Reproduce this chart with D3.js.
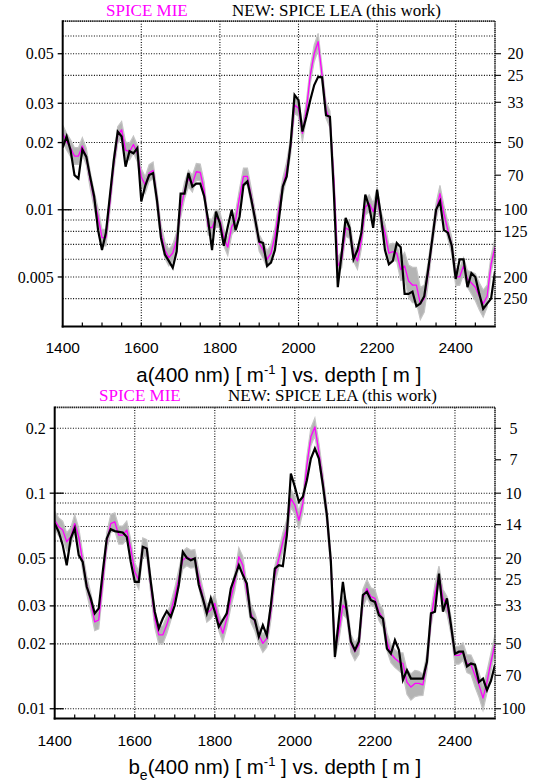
<!DOCTYPE html>
<html>
<head>
<meta charset="utf-8">
<script src="https://cdn.jsdelivr.net/npm/d3@7"></script>
<style>
html,body{margin:0;padding:0;background:#fff;}
svg{display:block;}
</style>
</head>
<body>
<svg id="chart" width="536" height="783"></svg>
<script>
// ---------------- DATA ----------------
const depths = [1400,1410,1420,1430,1440,1450,1460,1470,1480,1490,
 1500,1510,1520,1530,1540,1550,1560,1570,1580,1590,
 1600,1610,1620,1630,1640,1650,1660,1670,1680,1690,
 1700,1710,1720,1730,1740,1750,1760,1770,1780,1790,
 1800,1810,1820,1830,1840,1850,1860,1870,1880,1890,
 1900,1910,1920,1930,1940,1950,1960,1970,1980,1990,
 2000,2010,2020,2030,2040,2050,2060,2070,2080,2090,
 2100,2110,2120,2130,2140,2150,2160,2170,2180,2190,
 2200,2210,2220,2230,2240,2250,2260,2270,2280,2290,
 2300,2310,2320,2330,2340,2350,2360,2370,2380,2390,
 2400,2410,2420,2430,2440,2450,2460,2470,2480,2490,
 2500];

// a(400 nm): SPICE MIE (magenta) and SPICE LEA (black)
const absMie = [0.0220,0.0202,0.0189,0.0174,0.0174,0.0193,0.0173,0.0136,0.0111,0.0093,
 0.0075,0.0075,0.0107,0.0161,0.0216,0.0228,0.0185,0.0182,0.0196,0.0179,
 0.0140,0.0129,0.0146,0.0150,0.0111,0.0079,0.0066,0.0061,0.0064,0.0073,
 0.0100,0.0122,0.0138,0.0131,0.0148,0.0147,0.0122,0.0084,0.0083,0.0092,
 0.0090,0.0075,0.0068,0.0084,0.0090,0.0114,0.0141,0.0141,0.0114,0.0090,
 0.0071,0.0066,0.0060,0.0064,0.0076,0.0100,0.0127,0.0151,0.0192,0.0295,
 0.0285,0.0220,0.0280,0.0401,0.0502,0.0566,0.0401,0.0280,0.0254,0.0136,
 0.0056,0.0060,0.0083,0.0081,0.0064,0.0059,0.0073,0.0103,0.0107,0.0098,
 0.0114,0.0090,0.0079,0.0064,0.0065,0.0064,0.0054,0.0056,0.0048,0.0046,
 0.0046,0.0038,0.0040,0.0052,0.0073,0.0098,0.0118,0.0096,0.0081,0.0069,
 0.0050,0.0050,0.0056,0.0049,0.0047,0.0045,0.0041,0.0038,0.0041,0.0057,
 0.0068];
const absLea = [0.0190,0.0213,0.0185,0.0143,0.0138,0.0186,0.0173,0.0140,0.0115,0.0081,
 0.0066,0.0079,0.0115,0.0167,0.0224,0.0213,0.0156,0.0183,0.0179,0.0189,
 0.0109,0.0128,0.0143,0.0146,0.0110,0.0075,0.0063,0.0059,0.0055,0.0065,
 0.0118,0.0118,0.0146,0.0127,0.0131,0.0131,0.0115,0.0090,0.0066,0.0098,
 0.0087,0.0069,0.0084,0.0100,0.0081,0.0093,0.0129,0.0134,0.0111,0.0090,
 0.0072,0.0071,0.0056,0.0058,0.0066,0.0090,0.0127,0.0141,0.0198,0.0327,
 0.0310,0.0224,0.0261,0.0310,0.0362,0.0394,0.0392,0.0265,0.0261,0.0119,
 0.0045,0.0064,0.0092,0.0083,0.0060,0.0066,0.0079,0.0117,0.0103,0.0083,
 0.0123,0.0093,0.0066,0.0057,0.0059,0.0071,0.0068,0.0042,0.0042,0.0043,
 0.0037,0.0038,0.0041,0.0054,0.0073,0.0100,0.0109,0.0081,0.0079,0.0069,
 0.0049,0.0060,0.0060,0.0045,0.0052,0.0050,0.0042,0.0036,0.0038,0.0040,
 0.0053];
// relative half-width of the grey uncertainty band around SPICE MIE
const absErr = [0.09,0.09,0.09,0.09,0.09,0.09,0.09,0.09,0.09,0.09,
 0.09,0.09,0.09,0.09,0.09,0.09,0.09,0.09,0.09,0.09,
 0.09,0.09,0.09,0.09,0.09,0.09,0.09,0.09,0.09,0.09,
 0.09,0.09,0.09,0.09,0.09,0.09,0.09,0.09,0.09,0.09,
 0.09,0.09,0.09,0.09,0.09,0.09,0.09,0.09,0.09,0.09,
 0.09,0.09,0.09,0.09,0.09,0.09,0.09,0.09,0.09,0.09,
 0.09,0.09,0.09,0.09,0.09,0.09,0.09,0.09,0.09,0.09,
 0.09,0.09,0.09,0.09,0.09,0.09,0.09,0.09,0.09,0.09,
 0.09,0.09,0.09,0.09,0.09,0.09,0.12,0.15,0.18,0.20,
 0.20,0.18,0.15,0.12,0.09,0.09,0.09,0.09,0.09,0.09,
 0.09,0.09,0.09,0.09,0.12,0.15,0.15,0.15,0.12,0.09,
 0.09];

// b_e(400 nm): SPICE MIE (magenta) and SPICE LEA (black)
const scatMie = [0.0749,0.0698,0.0674,0.0595,0.0627,0.0723,0.0627,0.0480,0.0375,0.0314,
 0.0253,0.0258,0.0388,0.0595,0.0723,0.0737,0.0639,0.0639,0.0674,0.0554,
 0.0432,0.0395,0.0564,0.0554,0.0375,0.0262,0.0220,0.0220,0.0245,0.0282,
 0.0331,0.0402,0.0489,0.0507,0.0494,0.0498,0.0402,0.0331,0.0277,0.0287,
 0.0308,0.0253,0.0224,0.0262,0.0325,0.0388,0.0507,0.0463,0.0349,0.0277,
 0.0253,0.0220,0.0201,0.0212,0.0282,0.0417,0.0498,0.0595,0.0686,0.0945,
 0.0880,0.0749,0.0896,0.1348,0.1825,0.2029,0.1555,0.1129,0.0791,0.0480,
 0.0187,0.0228,0.0302,0.0287,0.0201,0.0184,0.0197,0.0325,0.0361,0.0331,
 0.0325,0.0282,0.0262,0.0205,0.0180,0.0171,0.0165,0.0162,0.0133,0.0126,
 0.0131,0.0131,0.0129,0.0165,0.0262,0.0343,0.0417,0.0325,0.0302,0.0244,
 0.0177,0.0177,0.0184,0.0162,0.0160,0.0143,0.0129,0.0112,0.0133,0.0165,
 0.0200];
const scatLea = [0.0723,0.0662,0.0574,0.0463,0.0616,0.0686,0.0516,0.0480,0.0368,0.0325,
 0.0277,0.0292,0.0432,0.0616,0.0681,0.0667,0.0662,0.0657,0.0627,0.0480,
 0.0388,0.0388,0.0564,0.0554,0.0388,0.0282,0.0236,0.0262,0.0284,0.0267,
 0.0302,0.0375,0.0534,0.0501,0.0489,0.0498,0.0375,0.0325,0.0277,0.0325,
 0.0282,0.0240,0.0258,0.0277,0.0361,0.0409,0.0463,0.0417,0.0381,0.0267,
 0.0258,0.0216,0.0244,0.0219,0.0302,0.0447,0.0463,0.0459,0.0639,0.1234,
 0.1070,0.0912,0.0962,0.1149,0.1448,0.1611,0.1448,0.1089,0.0791,0.0480,
 0.0174,0.0262,0.0388,0.0282,0.0205,0.0187,0.0205,0.0337,0.0349,0.0319,
 0.0313,0.0272,0.0262,0.0190,0.0180,0.0208,0.0187,0.0136,0.0151,0.0138,
 0.0138,0.0138,0.0138,0.0165,0.0277,0.0282,0.0424,0.0282,0.0325,0.0244,
 0.0180,0.0184,0.0184,0.0157,0.0162,0.0160,0.0133,0.0138,0.0122,0.0135,
 0.0160];
const scatErr = [0.10,0.10,0.10,0.10,0.10,0.10,0.10,0.10,0.10,0.10,
 0.10,0.10,0.10,0.10,0.10,0.10,0.10,0.10,0.10,0.10,
 0.10,0.10,0.10,0.10,0.10,0.10,0.10,0.10,0.10,0.10,
 0.10,0.10,0.10,0.10,0.10,0.10,0.10,0.10,0.10,0.10,
 0.10,0.10,0.10,0.10,0.10,0.10,0.10,0.10,0.10,0.10,
 0.10,0.10,0.10,0.10,0.10,0.10,0.10,0.10,0.10,0.10,
 0.10,0.10,0.10,0.10,0.10,0.10,0.10,0.10,0.10,0.10,
 0.10,0.10,0.10,0.10,0.10,0.10,0.10,0.10,0.10,0.10,
 0.10,0.10,0.10,0.10,0.10,0.10,0.10,0.12,0.14,0.15,
 0.15,0.14,0.12,0.10,0.10,0.10,0.10,0.10,0.10,0.10,
 0.10,0.10,0.10,0.10,0.11,0.13,0.14,0.14,0.12,0.10,
 0.10];

// axes / ticks
const xDomain = [1400, 2500];
const xTickLabels = [1400, 1600, 1800, 2000, 2200, 2400];
const xGrid = [1600, 1800, 2000, 2200, 2400];
const xMinorStep = 50;

const absDomain = [0.003, 0.07];
const absLeftTicks = [0.05, 0.03, 0.02, 0.01, 0.005];
const absLongTicks = [0.01];
const absGrid = [0.004, 0.005, 0.006, 0.007, 0.008, 0.009, 0.01, 0.02, 0.03, 0.04, 0.05, 0.06];
const absRightTicks = [20, 25, 33, 50, 70, 100, 125, 200, 250];

const scatDomain = [0.009, 0.25];
const scatLeftTicks = [0.2, 0.1, 0.05, 0.03, 0.02, 0.01];
const scatLongTicks = [0.1, 0.01];
const scatGrid = [0.01, 0.02, 0.03, 0.04, 0.05, 0.06, 0.07, 0.08, 0.09, 0.1, 0.2];
const scatRightTicks = [5, 7, 10, 14, 20, 25, 33, 50, 70, 100];

const legendMie = "SPICE MIE";
const legendLea = "NEW: SPICE LEA (this work)";

// ---------------- DRAW ----------------
const svg = d3.select("#chart");
svg.append("rect").attr("width", 536).attr("height", 783).attr("fill", "#fff");

const SERIF = "'Liberation Serif','Times New Roman',Times,serif";
const SANS = "'Liberation Sans',Arial,Helvetica,sans-serif";

function panel(cfg) {
  const g = svg.append("g");
  const x = d3.scaleLinear().domain(xDomain).range([cfg.left, cfg.right]);
  const y = d3.scaleLog().domain(cfg.yDomain).range([cfg.bottom, cfg.top]);

  // legend / title
  g.append("text").attr("x", cfg.mieX).attr("y", cfg.titleY)
    .attr("font-family", SERIF).attr("font-size", 17).attr("fill", "#ff00ff")
    .text(legendMie);
  g.append("text").attr("x", cfg.leaX).attr("y", cfg.titleY)
    .attr("font-family", SERIF).attr("font-size", 17).attr("fill", "#000")
    .text(legendLea);

  // grid
  const dot = "1,1.6";
  g.selectAll(".hg").data(cfg.grid).enter().append("line")
    .attr("x1", cfg.left).attr("x2", cfg.right)
    .attr("y1", d => y(d)).attr("y2", d => y(d))
    .attr("stroke", "#000").attr("stroke-width", 1.1).attr("stroke-dasharray", dot);
  g.selectAll(".vg").data(xGrid).enter().append("line")
    .attr("x1", d => x(d)).attr("x2", d => x(d))
    .attr("y1", cfg.top).attr("y2", cfg.bottom)
    .attr("stroke", "#000").attr("stroke-width", 1.1).attr("stroke-dasharray", dot);

  // data
  const rows = depths.map((d, i) => ({d, mie: cfg.mie[i], lea: cfg.lea[i], e: cfg.err[i]}));
  const clipId = "clip" + cfg.id;
  svg.append("clipPath").attr("id", clipId).append("rect")
    .attr("x", cfg.left).attr("y", cfg.top)
    .attr("width", cfg.right - cfg.left).attr("height", cfg.bottom - cfg.top);
  const pg = g.append("g").attr("clip-path", `url(#${clipId})`);
  pg.append("path").datum(rows)
    .attr("fill", "#b4b4b4").attr("stroke", "#c4c4c4").attr("stroke-width", 1.2)
    .attr("d", d3.area().x(r => x(r.d)).y0(r => y(r.mie / (1 + r.e))).y1(r => y(r.mie * (1 + r.e))));
  pg.append("path").datum(rows)
    .attr("fill", "none").attr("stroke", "#ff00ff").attr("stroke-width", 1.3)
    .attr("stroke-linejoin", "round")
    .attr("d", d3.line().x(r => x(r.d)).y(r => y(r.mie)));
  pg.append("path").datum(rows)
    .attr("fill", "none").attr("stroke", "#000").attr("stroke-width", 2.2)
    .attr("stroke-linejoin", "miter")
    .attr("d", d3.line().x(r => x(r.d)).y(r => y(r.lea)));

  // frame
  g.append("line").attr("x1", cfg.left).attr("x2", cfg.right).attr("y1", cfg.top).attr("y2", cfg.top)
    .attr("stroke", "#222").attr("stroke-width", 1.6).attr("stroke-dasharray", "1.5,0.6");
  g.append("line").attr("x1", cfg.right).attr("x2", cfg.right).attr("y1", cfg.top).attr("y2", cfg.bottom)
    .attr("stroke", "#222").attr("stroke-width", 1.6).attr("stroke-dasharray", "1.5,0.6");
  g.append("line").attr("x1", cfg.left).attr("x2", cfg.left).attr("y1", cfg.top - 0.8).attr("y2", cfg.bottom + 1)
    .attr("stroke", "#000").attr("stroke-width", 2);
  g.append("line").attr("x1", cfg.left - 1).attr("x2", cfg.right + 0.8).attr("y1", cfg.bottom).attr("y2", cfg.bottom)
    .attr("stroke", "#000").attr("stroke-width", 2);

  // bottom axis: minor ticks every 50 m, inward
  const minor = d3.range(xDomain[0] + xMinorStep, xDomain[1], xMinorStep);
  g.selectAll(".xt").data(minor).enter().append("line")
    .attr("x1", d => x(d)).attr("x2", d => x(d))
    .attr("y1", cfg.bottom).attr("y2", cfg.bottom - 4)
    .attr("stroke", "#000").attr("stroke-width", 1.2);
  g.selectAll(".xl").data(xTickLabels).enter().append("text")
    .attr("x", d => x(d)).attr("y", cfg.xLabelY)
    .attr("text-anchor", "middle").attr("font-family", SANS).attr("font-size", 15.5)
    .text(d => d);

  // left axis
  g.selectAll(".yt").data(cfg.leftTicks).enter().append("line")
    .attr("x1", cfg.left - 5).attr("x2", d => cfg.longTicks.includes(d) ? cfg.left + 9 : cfg.left)
    .attr("y1", d => y(d)).attr("y2", d => y(d))
    .attr("stroke", "#000").attr("stroke-width", 1.3);
  g.selectAll(".yl").data(cfg.leftTicks).enter().append("text")
    .attr("x", cfg.left - 9).attr("y", d => y(d)).attr("dy", "0.35em")
    .attr("text-anchor", "end").attr("font-family", SERIF).attr("font-size", 16)
    .text(d => String(d));

  // right axis (1/value)
  g.selectAll(".rt").data(cfg.rightTicks).enter().append("line")
    .attr("x1", cfg.right).attr("x2", cfg.right + 6)
    .attr("y1", d => y(1 / d)).attr("y2", d => y(1 / d))
    .attr("stroke", "#000").attr("stroke-width", 1.1);
  g.selectAll(".rl").data(cfg.rightTicks).enter().append("text")
    .attr("x", cfg.rightLabelX).attr("y", d => y(1 / d)).attr("dy", "0.35em")
    .attr("text-anchor", "middle").attr("font-family", SERIF).attr("font-size", 16)
    .text(d => d);

  // x title
  const t = g.append("text").attr("x", (cfg.left + cfg.right) / 2).attr("y", cfg.xTitleY)
    .attr("text-anchor", "middle").attr("font-family", SANS).attr("font-size", 20.5);
  cfg.xTitle(t);
}

panel({
  id: "a", left: 62.7, right: 495, top: 21.1, bottom: 326.5,
  yDomain: absDomain, mie: absMie, lea: absLea, err: absErr,
  grid: absGrid, leftTicks: absLeftTicks, longTicks: absLongTicks, rightTicks: absRightTicks,
  titleY: 15.5, mieX: 106, leaX: 232, xLabelY: 353, xTitleY: 382, rightLabelX: 515.5,
  xTitle: t => {
    t.append("tspan").text("a(400 nm) [ m");
    t.append("tspan").attr("font-size", 13).attr("dy", -8).text("-1");
    t.append("tspan").attr("dy", 8).text(" ] vs. depth [ m ]");
  }
});

panel({
  id: "b", left: 54.7, right: 495, top: 407.4, bottom: 718.6,
  yDomain: scatDomain, mie: scatMie, lea: scatLea, err: scatErr,
  grid: scatGrid, leftTicks: scatLeftTicks, longTicks: scatLongTicks, rightTicks: scatRightTicks,
  titleY: 401, mieX: 99, leaX: 228, xLabelY: 746, xTitleY: 774, rightLabelX: 513.5,
  xTitle: t => {
    t.append("tspan").text("b");
    t.append("tspan").attr("font-size", 14).attr("dy", 6).text("e");
    t.append("tspan").attr("dy", -6).text("(400 nm) [ m");
    t.append("tspan").attr("font-size", 13).attr("dy", -8).text("-1");
    t.append("tspan").attr("dy", 8).text(" ] vs. depth [ m ]");
  }
});
</script>
</body>
</html>
